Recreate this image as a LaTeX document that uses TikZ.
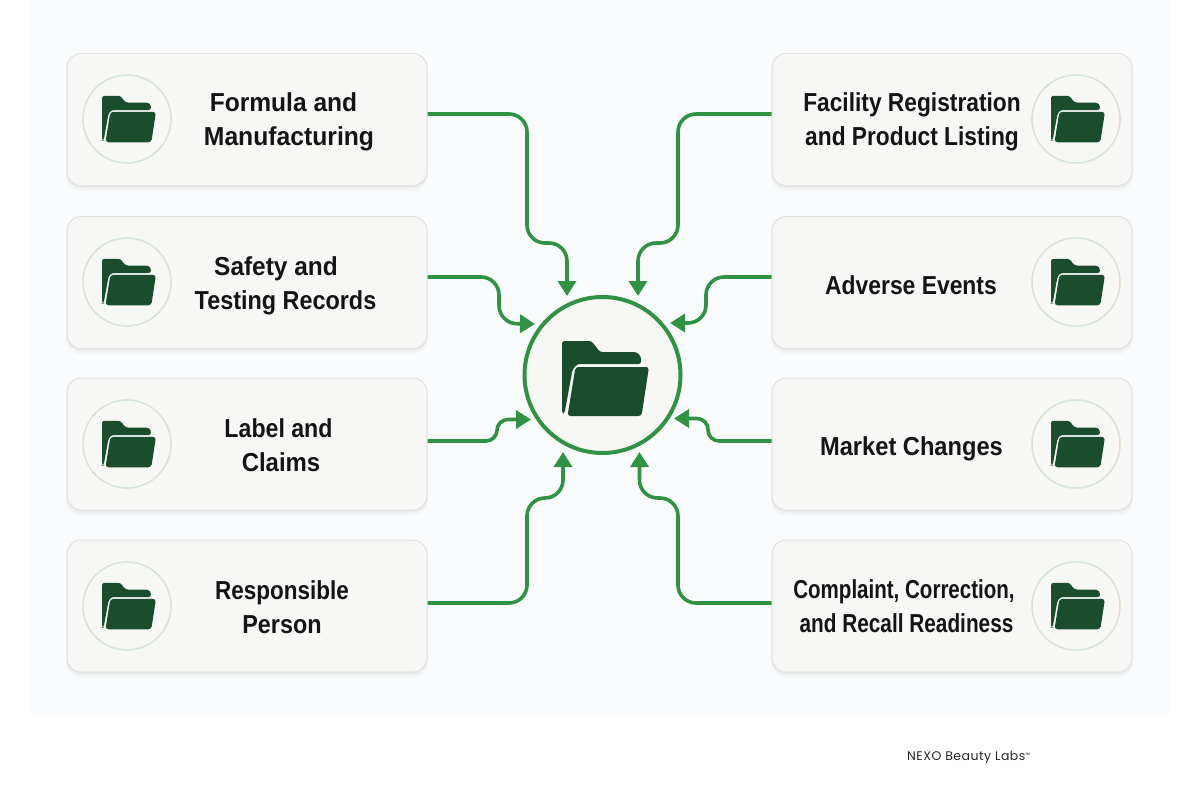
\documentclass[tikz,border=0pt]{standalone}
\usepackage{fontspec}
\setmainfont{Liberation Sans}
\newfontfamily\lblfont{Liberation Sans Bold}
\newfontfamily\footfont[LetterSpace=4]{Poppins}
\usetikzlibrary{arrows.meta,shadows}
\definecolor{panelbg}{HTML}{FAFBFD}
\definecolor{cardbg}{HTML}{F7F7F6}
\definecolor{cardline}{HTML}{E0E2DF}
\definecolor{linkgreen}{HTML}{2F9343}
\definecolor{foldergreen}{HTML}{1A4D2C}
\definecolor{ringgreen}{HTML}{D6E4D6}
\newcommand{\sq}[2]{\scalebox{#1}[1]{#2}}
\tikzset{
  x=1pt,y=-1pt,
  card/.style={draw=cardline,line width=1pt,fill=cardbg,rounded corners=14pt,minimum width=360pt,minimum height=132pt,inner sep=0pt,
    general shadow={shadow yshift=-5pt,fill=black,opacity=.025,shadow scale=1.005},
    general shadow={shadow yshift=-2.5pt,fill=black,opacity=.04}},
  ring/.style={circle,draw=ringgreen,line width=1.6pt,minimum size=88pt,inner sep=0pt},
  hubnode/.style={circle,draw=linkgreen,line width=4pt,fill=cardbg,minimum size=156pt,inner sep=0pt},
  cardlabel/.style={font=\lblfont\fontsize{26}{34}\selectfont,align=center,text=black!92,inner sep=0pt},
  link/.style={draw=linkgreen,line width=3.6pt,-{Triangle[width=18pt,length=15pt]}},
  folder/.pic={
    \fill[foldergreen,rounded corners=2.5pt] (-43.5,34.5)--(-43.5,-37.5)--(-14,-37.5)--(-5.5,-26.5)--(31,-26.5)--(35.5,-22)--(35.5,-14.5)--(-28,-14.5)--(-33,-9)--(-41,35)--cycle;
    \fill[foldergreen,rounded corners=3pt] (-38,37.5)--(-30,-11.5)--(43.5,-11.5)--(36,37.5)--cycle;
  }
}
\begin{document}
\begin{tikzpicture}
\useasboundingbox (0,0) rectangle (1200,800);
\fill[white] (0,0) rectangle (1200,800);
\fill[panelbg] (30,0) rectangle (1170,713);

\node[card] (c1) at (247,119.5) {};
\node[card] (c2) at (247,282.5) {};
\node[card] (c3) at (247,444) {};
\node[card] (c4) at (247,606) {};
\node[card] (d1) at (952,119.5) {};
\node[card] (d2) at (952,282.5) {};
\node[card] (d3) at (952,444) {};
\node[card] (d4) at (952,606) {};

\node[ring] (i1) at (127,119) {}; \pic[scale=.62] at (129,119) {folder};
\node[ring] (i2) at (127,282) {}; \pic[scale=.62] at (129,282) {folder};
\node[ring] (i3) at (127,444) {}; \pic[scale=.62] at (129,444) {folder};
\node[ring] (i4) at (127,606) {}; \pic[scale=.62] at (129,606) {folder};
\node[ring] (j1) at (1076,119) {}; \pic[scale=.62] at (1078,119) {folder};
\node[ring] (j2) at (1076,282) {}; \pic[scale=.62] at (1078,282) {folder};
\node[ring] (j3) at (1076,444) {}; \pic[scale=.62] at (1078,444) {folder};
\node[ring] (j4) at (1076,606) {}; \pic[scale=.62] at (1078,606) {folder};

\node[cardlabel] (t1) at (289,122) {\sq{.945}{Formula and}\kern11pt\\\sq{.95}{Manufacturing}};
\node[cardlabel] (t2) at (285.5,286) {\sq{.94}{Safety and}\kern19pt\\\sq{.90}{Testing Records}};
\node[cardlabel] (t3) at (281,445) {\sq{.89}{Label and}\kern5pt\\\sq{.92}{Claims}};
\node[cardlabel] (t4) at (282,607) {\sq{.865}{Responsible}\\\sq{.90}{Person}};
\node[cardlabel] (u1) at (912,122) {\sq{.875}{Facility Registration}\\\sq{.875}{and Product Listing}};
\node[cardlabel] (u2) at (911,285) {\sq{.88}{Adverse Events}};
\node[cardlabel] (u3) at (911.5,449) {\sq{.91}{Market Changes}};
\node[cardlabel] (u4) at (906.5,606) {\sq{.79}{Complaint, Correction,}\kern5pt\\\sq{.80}{and Recall Readiness}};

\node[hubnode] (hub) at (602.5,375) {};
\pic at (605.5,378.5) {folder};

\begin{scope}[rounded corners=18pt]
\draw[link] ([shift={(0,-5.5)}]c1.east) -| (527,243) -| ([shift={(-35.5,-79)}]hub.center);
\draw[link] ([shift={(0,-5.5)}]c2.east) -| (499,323.5) -- ([shift={(-67.5,-51)}]hub.center);
\draw[link] ([shift={(0,-3)}]c4.east) -| (527,498) -| ([shift={(-39.5,77)}]hub.center);
\draw[link] ([shift={(0,-5.5)}]d1.west) -| (678,243) -| ([shift={(35.5,-79)}]hub.center);
\draw[link] ([shift={(0,-5.5)}]d2.west) -| (706,323) -- ([shift={(67.5,-52)}]hub.center);
\draw[link] ([shift={(0,-3)}]d4.west) -| (678,498) -| ([shift={(37,77)}]hub.center);
\end{scope}
\begin{scope}[rounded corners=11pt]
\draw[link] ([shift={(0,-3)}]c3.east) -| (497,419.5) -- ([shift={(-71.5,44.5)}]hub.center);
\draw[link] ([shift={(0,-3)}]d3.west) -| (708,418.5) -- ([shift={(71.5,43.5)}]hub.center);
\end{scope}

\node[font=\footfont\fontsize{12.5}{14}\selectfont,text=black!85,anchor=west,inner sep=0pt] (brand) at (907,757) {NEXO Beauty Labs\raisebox{2.5pt}{\fontsize{6}{7}\selectfont ™}};
\end{tikzpicture}
\end{document}
